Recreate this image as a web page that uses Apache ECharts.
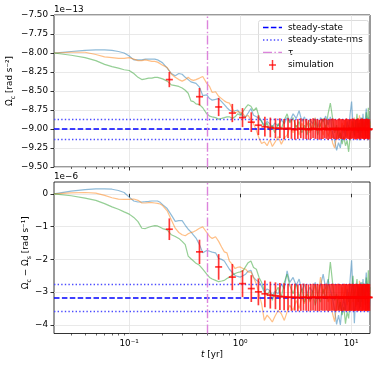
<!DOCTYPE html>
<html><head><meta charset="utf-8">
<script src="https://cdn.jsdelivr.net/npm/echarts@6/dist/echarts.min.js"></script>
<style>html,body{margin:0;padding:0;background:#fff}#c{width:377px;height:369px}</style>
</head><body><div id="c"></div>
<script>
// ---- data (top panel in units of 1e-13 rad s^-2, bottom panel in units of 1e-6 rad s^-1) ----
const T = [0.021,0.03,0.04,0.05,0.06,0.07,0.08,0.09,
  0.1,0.11,0.12,0.13,0.14,0.15,0.16,0.17,0.18,0.19,0.2,
  0.22,0.24,0.26,0.28,0.3,0.32,0.34,0.36,0.38,0.4,
  0.43,0.46,0.5,0.53,0.56,
  0.6,0.64,0.68,0.72,0.76,0.8,
  0.85,0.9,0.95,1.0,
  1.06,1.12,1.18,1.25,1.32,1.4,1.48,1.56,1.65,1.75,1.85,1.95,2.05,
  2.2,2.35,2.5,2.65,2.8,
  3.0,3.2,3.4,3.6,3.8,4.0,
  4.25,4.5,4.75,5.0,
  5.3,5.6,5.9,6.2,6.5,6.8,7.1,7.4,7.7,8.0,8.3,8.6,8.9,9.2,9.5,9.8,10.1,10.4,10.7,11.0,11.3,11.6,11.9,12.2,12.5,12.8,13.1,13.4,13.7,14.0,14.3,14.6,
  14.8];

const TOP_BLUE = [-8.00,-7.98,-7.965,-7.96,-7.96,-7.965,-7.98,-8.00,
  -8.04,-8.09,-8.09,-8.09,-8.08,-8.08,-8.08,-8.08,-8.09,-8.11,-8.13,
  -8.20,-8.27,-8.30,-8.27,-8.28,-8.32,-8.35,-8.38,-8.39,-8.40,
  -8.45,-8.56,-8.55,-8.60,-8.62,
  -8.61,-8.60,-8.64,-8.68,-8.72,-8.75,
  -8.77,-8.76,-8.75,-8.80,
  -8.83,-8.84,-8.79,-8.73,-8.82,-8.84,-8.86,-8.90,-8.95,-8.90,-8.93,-8.98,-8.92,
  -8.96,-8.88,-8.93,-8.85,-8.90,
  -8.80,-8.86,-8.76,-8.90,-8.84,-8.95,
  -8.88,-8.93,-8.86,-8.98,
  -8.85,-8.90,-8.83,-8.95,-8.84,-9.05,-9.15,-9.28,-9.18,-9.25,-9.05,-8.95,-9.10,-8.90,-9.02,-8.80,-8.64,-8.95,-9.10,-8.88,-9.05,-8.92,-9.15,-8.85,-9.05,-8.80,-9.00,-8.90,-8.73,-9.05,-8.85,-9.10,
  -8.95];
const TOP_ORANGE = [-8.00,-7.99,-7.99,-8.02,-8.05,-8.06,-8.07,-8.07,
  -8.06,-8.08,-8.10,-8.10,-8.09,-8.10,-8.11,-8.11,-8.12,-8.14,-8.16,
  -8.19,-8.28,-8.32,-8.35,-8.37,-8.35,-8.32,-8.35,-8.36,-8.35,
  -8.33,-8.31,-8.40,-8.44,-8.52,
  -8.51,-8.57,-8.60,-8.63,-8.65,-8.66,
  -8.73,-8.79,-8.77,-8.78,
  -8.80,-8.84,-8.82,-8.88,-8.93,-9.02,-9.12,-9.19,-9.17,-9.22,-9.14,-9.23,-9.18,
  -9.10,-9.20,-9.12,-9.08,-8.98,
  -9.05,-8.95,-9.08,-8.92,-9.02,-8.90,
  -9.05,-8.95,-8.85,-9.02,
  -8.92,-9.08,-8.95,-9.10,-9.00,-9.18,-9.25,-9.10,-8.98,-9.12,-8.92,-9.05,-8.88,-9.10,-8.95,-9.15,-8.90,-9.05,-8.85,-9.10,-8.92,-9.05,-8.82,-9.00,-8.88,-9.12,-8.95,-9.05,-8.90,-9.15,-8.95,-9.05,
  -8.92];
const TOP_GREEN = [-8.00,-8.03,-8.06,-8.10,-8.15,-8.18,-8.20,-8.22,
  -8.23,-8.27,-8.32,-8.35,-8.34,-8.33,-8.33,-8.32,-8.32,-8.33,-8.34,
  -8.37,-8.42,-8.43,-8.44,-8.46,-8.49,-8.53,-8.63,-8.64,-8.67,
  -8.68,-8.72,-8.80,-8.83,-8.84,
  -8.85,-8.87,-8.86,-8.85,-8.84,-8.84,
  -8.86,-8.84,-8.80,-8.82,
  -8.77,-8.72,-8.68,-8.70,-8.76,-8.72,-8.84,-8.90,-8.98,-8.92,-9.02,-8.95,-9.05,
  -8.93,-9.00,-8.88,-8.80,-8.92,
  -8.85,-8.98,-8.90,-9.05,-8.95,-9.08,
  -8.92,-9.02,-8.90,-9.08,
  -8.95,-8.86,-9.00,-8.80,-8.66,-8.85,-9.05,-8.95,-9.12,-9.05,-9.20,-9.10,-9.22,-9.15,-9.30,-9.10,-9.00,-8.90,-9.08,-8.95,-8.80,-9.05,-8.92,-9.10,-8.85,-9.00,-8.90,-9.10,-8.78,-8.95,-8.72,-9.00,
  -8.90];

const BOT_BLUE = [0.00,0.08,0.13,0.15,0.15,0.14,0.10,0.04,
  -0.10,-0.22,-0.25,-0.25,-0.24,-0.23,-0.22,-0.22,-0.22,-0.26,-0.33,
  -0.45,-0.65,-0.84,-0.82,-0.82,-0.96,-1.08,-1.16,-1.26,-1.35,
  -1.55,-1.80,-1.73,-1.75,-1.78,
  -1.80,-1.97,-2.00,-2.05,-2.18,-2.30,
  -2.40,-2.49,-2.52,-2.54,
  -2.50,-2.45,-2.36,-2.33,-2.55,-2.64,-2.68,-2.82,-3.00,-2.90,-2.95,-3.10,-2.98,
  -3.05,-2.75,-2.90,-2.35,-2.70,
  -2.55,-2.80,-2.60,-2.95,-2.75,-3.05,
  -2.85,-3.00,-2.70,-3.10,
  -2.80,-2.45,-2.90,-2.60,-2.95,-3.20,-3.55,-3.98,-3.70,-4.00,-3.45,-3.20,-3.55,-2.90,-3.30,-2.60,-2.03,-3.00,-3.95,-3.10,-3.40,-2.80,-3.50,-2.70,-3.30,-2.60,-3.20,-2.85,-2.40,-3.35,-2.75,-3.50,
  -3.10];
const BOT_ORANGE = [0.00,0.03,0.04,0.02,-0.05,-0.12,-0.16,-0.17,
  -0.17,-0.16,-0.20,-0.28,-0.28,-0.27,-0.27,-0.28,-0.29,-0.31,-0.36,
  -0.52,-0.80,-1.05,-1.18,-1.25,-1.28,-1.22,-1.18,-1.16,-1.12,
  -1.05,-1.01,-1.18,-1.30,-1.36,
  -1.31,-1.45,-1.62,-1.77,-1.80,-2.05,
  -2.15,-2.28,-2.24,-2.23,
  -2.28,-2.30,-2.39,-2.38,-2.55,-2.75,-3.05,-3.35,-3.86,-3.70,-3.80,-3.91,-3.75,
  -3.55,-3.66,-3.86,-3.60,-3.40,
  -3.55,-3.25,-3.50,-3.15,-3.35,-3.05,
  -3.30,-3.10,-2.75,-3.20,
  -2.54,-3.05,-2.85,-3.30,-3.05,-3.65,-3.90,-3.40,-3.10,-3.50,-2.85,-3.25,-2.80,-3.40,-3.00,-3.55,-2.90,-3.30,-2.75,-3.45,-2.95,-3.30,-2.65,-3.10,-2.85,-3.50,-3.00,-3.25,-2.90,-3.60,-3.05,-3.30,
  -2.95];
const BOT_GREEN = [0.00,-0.06,-0.13,-0.20,-0.30,-0.40,-0.47,-0.55,
  -0.62,-0.72,-0.85,-1.05,-1.06,-1.02,-0.99,-0.97,-0.98,-1.02,-1.06,
  -1.10,-1.25,-1.30,-1.36,-1.45,-1.55,-1.90,-1.98,-2.05,-2.12,
  -2.18,-2.30,-2.45,-2.55,-2.60,
  -2.64,-2.68,-2.66,-2.64,-2.58,-2.54,
  -2.48,-2.43,-2.40,-2.38,
  -2.35,-2.22,-2.10,-2.05,-2.25,-2.30,-2.55,-2.70,-2.95,-3.10,-2.95,-3.25,-3.05,
  -2.85,-3.15,-2.70,-2.45,-2.80,
  -3.05,-2.75,-3.15,-2.90,-3.30,-3.05,
  -3.25,-2.95,-3.40,-3.10,
  -3.30,-2.90,-3.20,-2.75,-2.08,-2.70,-3.25,-3.05,-3.55,-3.30,-3.70,-3.45,-3.96,-3.60,-3.80,-3.20,-2.95,-2.50,-3.20,-2.90,-2.60,-3.30,-2.85,-3.45,-2.70,-3.15,-2.80,-3.40,-2.55,-3.00,-2.33,-3.10,
  -2.85];

const SIM_T = [0.23,0.43,0.64,0.85,1.05,1.26,1.46,1.67,1.87,2.08,2.28,2.49,2.70,2.90,3.11,3.31,3.52,3.72,3.93,4.13,
  4.34,4.54,4.75,4.96,5.16,5.37,5.57,5.78,5.98,6.19,6.39,6.60,6.81,7.01,7.22,7.42,7.63,7.83,8.04,8.24,
  8.45,8.65,8.86,9.07,9.27,9.48,9.68,9.89,10.09,10.30,10.50,10.71,10.92,11.12,11.33,11.53,11.74,11.94,12.15,12.35,
  12.56,12.77,12.97,13.18,13.38,13.59,13.79,14.00,14.20,14.41,14.61];
const SIM_TOP = [-8.35,-8.575,-8.71,-8.79,-8.85,-8.91,-8.95,-8.97,-8.98,-8.99,-8.99,
  -9.00,-8.99,-9.00,-9.01,-9.00,-8.99,-9.00,-9.00,-9.01,-9.00,
  -8.99,-9.00,-9.00,-9.01,-9.00,-9.00,-8.99,-9.00,-9.01,-9.00,
  -9.00,-8.99,-9.00,-9.00,-9.01,-9.00,-8.99,-9.00,-9.00,-9.00,
  -9.01,-9.00,-8.99,-9.00,-9.00,-9.01,-9.00,-9.00,-8.99,-9.00,
  -9.00,-9.01,-9.00,-9.00,-8.99,-9.00,-9.01,-9.00,-9.00,-8.99,
  -9.00,-9.00,-9.01,-9.00,-9.00,-8.99,-9.00,-9.00,-9.01,-9.00];
const SIM_TOP_ERR = [0.10,0.115,0.12,0.12,0.125,
  0.13,0.13,0.13,0.13,0.13,0.13,0.13,0.13,0.13,0.13,0.13,
  0.13,0.13,0.13,0.13,0.13,0.13,0.13,0.13,0.13,0.13,0.13,
  0.13,0.13,0.13,0.13,0.13,0.13,0.13,0.13,0.13,0.13,0.13,
  0.13,0.13,0.13,0.13,0.13,0.13,0.13,0.13,0.13,0.13,0.13,
  0.13,0.13,0.13,0.13,0.13,0.13,0.13,0.13,0.13,0.13,0.13,
  0.13,0.13,0.13,0.13,0.13,0.13,0.13,0.13,0.13,0.13,0.13];
const SIM_BOT = [-1.08,-1.77,-2.23,-2.54,-2.74,-2.89,-2.99,-3.05,-3.09,-3.11,-3.13,
  -3.14,-3.15,-3.16,-3.15,-3.17,-3.16,-3.15,-3.16,-3.17,-3.16,
  -3.15,-3.16,-3.16,-3.17,-3.15,-3.16,-3.16,-3.15,-3.17,-3.16,
  -3.16,-3.15,-3.16,-3.17,-3.16,-3.15,-3.16,-3.16,-3.17,-3.16,
  -3.15,-3.16,-3.16,-3.17,-3.16,-3.15,-3.16,-3.16,-3.15,-3.17,
  -3.16,-3.16,-3.15,-3.16,-3.17,-3.16,-3.15,-3.16,-3.16,-3.17,
  -3.16,-3.15,-3.16,-3.16,-3.17,-3.16,-3.15,-3.16,-3.16,-3.16];
const SIM_BOT_ERR = [0.33,0.37,0.39,0.40,0.41,
  0.41,0.41,0.41,0.41,0.41,0.41,0.41,0.41,0.41,0.41,0.41,
  0.41,0.41,0.41,0.41,0.41,0.41,0.41,0.41,0.41,0.41,0.41,
  0.41,0.41,0.41,0.41,0.41,0.41,0.41,0.41,0.41,0.41,0.41,
  0.41,0.41,0.41,0.41,0.41,0.41,0.41,0.41,0.41,0.41,0.41,
  0.41,0.41,0.41,0.41,0.41,0.41,0.41,0.41,0.41,0.41,0.41,
  0.41,0.41,0.41,0.41,0.41,0.41,0.41,0.41,0.41,0.41,0.41];

const SS_TOP = -9.0, RMS_TOP = 0.128;
const SS_BOT = -3.16, RMS_BOT = 0.415;
const TAU = 0.5;
const X_MIN = 0.021, X_MAX = 14.8;
const X_MAJOR = [0.1, 1, 10];
const X_MINOR = [0.03,0.04,0.05,0.06,0.07,0.08,0.09,0.2,0.3,0.4,0.5,0.6,0.7,0.8,0.9,2,3,4,5,6,7,8,9];
const Y_TOP_MIN = -9.5, Y_TOP_MAX = -7.5, Y_TOP_STEP = 0.25;
const Y_BOT_MIN = -4.26, Y_BOT_MAX = 0.36;
const Y_BOT_TICKS = [-4, -3, -2, -1, 0];

// ---- styling ----
const FONT = 'DejaVu Sans';
const FS = 8.8;
const C_BLUE = 'rgba(31,119,180,0.5)', C_ORANGE = 'rgba(255,127,14,0.5)', C_GREEN = 'rgba(44,160,44,0.5)';
const C_SIM = 'rgba(255,0,0,0.78)';
const C_SS = '#0000ff', C_RMS = '#4b4bff', C_TAU = '#dc84dc';
const DASH_SS = [5.5, 2.4], DASH_RMS = [1.4, 2.2], DASH_TAU = [9.0, 2.4, 1.5, 2.4];
const GRIDLINE = {show: true, lineStyle: {color: '#e3e3e3', width: 0.8}};
const minus = s => String(s).replace('-', '\u2212');
const SUP = {'-': '\u207b', '0': '\u2070', '1': '\u00b9', '2': '\u00b2', '3': '\u00b3'};
const logLabel = v => '10' + String(Math.round(Math.log10(v))).split('').map(c => SUP[c]).join('');

function pairs(arr) { return T.map((t, i) => [t, arr[i]]); }
function simData(vals, errs) { return SIM_T.map((t, i) => [t, vals[i], errs[i]]); }

function errRender(params, api) {
  const t = api.value(0), v = api.value(1), e = api.value(2);
  const p = api.coord([t, v]);
  const a = api.coord([t, v + e]);
  const b = api.coord([t, v - e]);
  const st = {stroke: C_SIM, lineWidth: 1.7, fill: null};
  return {type: 'group', children: [
    {type: 'line', shape: {x1: p[0], y1: a[1], x2: p[0], y2: b[1]}, style: st},
    {type: 'line', shape: {x1: p[0] - 3.5, y1: p[1], x2: p[0] + 3.5, y2: p[1]}, style: st}
  ]};
}

function xMain(gi, withLabels) {
  const ax = {
    type: 'log', logBase: 10, gridIndex: gi, min: X_MIN, max: X_MAX, position: 'bottom',
    axisLine: {show: false},
    axisTick: {show: true, customValues: X_MAJOR, length: 3.5, lineStyle: {color: '#000', width: 0.8}},
    axisLabel: {show: withLabels, customValues: X_MAJOR, formatter: logLabel, margin: 6,
      fontFamily: FONT, fontSize: FS, color: '#000'},
    splitLine: GRIDLINE
  };
  if (withLabels) {
    ax.name = '{i|t} [yr]';
    ax.nameLocation = 'middle';
    ax.nameGap = 17;
    ax.nameMoveOverlap = false;
    ax.nameTextStyle = {fontFamily: FONT, fontSize: FS, color: '#000',
      rich: {i: {fontFamily: FONT, fontSize: FS, fontStyle: 'italic', color: '#000'}}};
  }
  return ax;
}
function xMinor(gi) {
  return {type: 'log', logBase: 10, gridIndex: gi, min: X_MIN, max: X_MAX, position: 'bottom',
    axisLine: {show: false}, axisLabel: {show: false}, splitLine: {show: false},
    axisTick: {show: true, customValues: X_MINOR, length: 2, lineStyle: {color: '#000', width: 0.6}}};
}

const richName = {
  a: {fontFamily: FONT, fontSize: FS, color: '#000', lineHeight: 12},
  b: {fontFamily: FONT, fontSize: 6.3, color: '#000', lineHeight: 7, verticalAlign: 'bottom'}
};

function hLines(name, xi, yi, vals, color, dash, width) {
  return {name, type: 'line', xAxisIndex: xi, yAxisIndex: yi, data: [], z: 4,
    markLine: {silent: true, symbol: ['none', 'none'], label: {show: false}, animation: false,
      lineStyle: {color, type: dash, width}, data: vals.map(v => ({yAxis: v}))}};
}
function vLine(xi, yi) {
  return {name: 'τ', type: 'line', xAxisIndex: xi, yAxisIndex: yi, data: [], z: 5,
    markLine: {silent: true, symbol: ['none', 'none'], label: {show: false}, animation: false,
      lineStyle: {color: C_TAU, type: DASH_TAU, width: 1.4}, data: [{xAxis: TAU}]}};
}
function curve(xi, yi, arr, color) {
  return {type: 'line', xAxisIndex: xi, yAxisIndex: yi, data: pairs(arr), showSymbol: false, symbol: 'none',
    lineStyle: {color, width: 1.2}, z: 2, silent: true};
}

const gridBase = {left: 54, width: 316, show: true, borderColor: '#000', borderWidth: 0.8,
  backgroundColor: 'transparent', containLabel: false, outerBoundsMode: 'none'};
const option = {
  animation: false,
  backgroundColor: '#fff',
  textStyle: {fontFamily: FONT},
  grid: [
    Object.assign({}, gridBase, {top: 15, height: 152}),
    Object.assign({}, gridBase, {top: 182, height: 151.5})
  ],
  xAxis: [xMain(0, false), xMinor(0), xMain(1, true), xMinor(1)],
  yAxis: [
    {type: 'value', gridIndex: 0, min: Y_TOP_MIN, max: Y_TOP_MAX, interval: Y_TOP_STEP,
      axisLine: {show: false},
      axisTick: {show: true, length: 3.5, lineStyle: {color: '#000', width: 0.8}},
      axisLabel: {formatter: v => minus(v.toFixed(2)), margin: 6, fontFamily: FONT, fontSize: FS, color: '#000'},
      splitLine: GRIDLINE,
      name: '{a|\u03A9\u0307}{b|c}{a| [rad s\u207b\u00b2]}', nameLocation: 'middle', nameGap: 38, nameMoveOverlap: false,
      nameTextStyle: {fontFamily: FONT, fontSize: FS, color: '#000', rich: richName, padding: [0, 0, 0, 20]}},
    {type: 'value', gridIndex: 1, min: Y_BOT_MIN, max: Y_BOT_MAX,
      axisLine: {show: false},
      axisTick: {show: true, customValues: Y_BOT_TICKS, length: 3.5, lineStyle: {color: '#000', width: 0.8}},
      axisLabel: {customValues: Y_BOT_TICKS, formatter: v => minus(Math.round(v)), margin: 6, fontFamily: FONT, fontSize: FS, color: '#000'},
      splitLine: GRIDLINE,
      name: '{a|\u03A9}{b|c}{a| \u2212 \u03A9}{b|s}{a| [rad s\u207b\u00b9]}', nameLocation: 'middle', nameGap: 22, nameMoveOverlap: false,
      nameTextStyle: {fontFamily: FONT, fontSize: FS, color: '#000', rich: richName, padding: [0, 0, 0, 10]}}
  ],
  series: [
    curve(0, 0, TOP_BLUE, C_BLUE), curve(0, 0, TOP_ORANGE, C_ORANGE), curve(0, 0, TOP_GREEN, C_GREEN),
    curve(2, 1, BOT_BLUE, C_BLUE), curve(2, 1, BOT_ORANGE, C_ORANGE), curve(2, 1, BOT_GREEN, C_GREEN),
    hLines('steady-state', 0, 0, [SS_TOP], C_SS, DASH_SS, 1.5),
    hLines('steady-state-rms', 0, 0, [SS_TOP + RMS_TOP, SS_TOP - RMS_TOP], C_RMS, DASH_RMS, 1.4),
    hLines('steady-state', 2, 1, [SS_BOT], C_SS, DASH_SS, 1.5),
    hLines('steady-state-rms', 2, 1, [SS_BOT + RMS_BOT, SS_BOT - RMS_BOT], C_RMS, DASH_RMS, 1.4),
    vLine(0, 0), vLine(2, 1),
    {name: 'simulation', type: 'custom', coordinateSystem: 'cartesian2d', xAxisIndex: 0, yAxisIndex: 0,
      renderItem: errRender, encode: {x: 0, y: 1}, data: simData(SIM_TOP, SIM_TOP_ERR), z: 6, silent: true},
    {name: 'simulation', type: 'custom', coordinateSystem: 'cartesian2d', xAxisIndex: 2, yAxisIndex: 1,
      renderItem: errRender, encode: {x: 0, y: 1}, data: simData(SIM_BOT, SIM_BOT_ERR), z: 6, silent: true}
  ],
  graphic: [
    {type: 'text', x: 54, y: 9.5, style: {text: '1e\u221213', fontFamily: FONT, fontSize: FS, fill: '#000', verticalAlign: 'middle'}},
    {type: 'text', x: 54, y: 176.5, style: {text: '1e\u22126', fontFamily: FONT, fontSize: FS, fill: '#000', verticalAlign: 'middle'}},
    {type: 'group', z: 100, children: [
      {type: 'rect', shape: {x: 258.5, y: 20.5, width: 110, height: 52, r: 2},
        style: {fill: 'rgba(255,255,255,0.85)', stroke: '#d3d3d3', lineWidth: 0.8}},
      {type: 'line', shape: {x1: 263, y1: 27.5, x2: 282, y2: 27.5}, style: {stroke: C_SS, lineWidth: 1.5, lineDash: DASH_SS}},
      {type: 'text', x: 288, y: 27.5, style: {text: 'steady-state', fontFamily: FONT, fontSize: FS, fill: '#000', verticalAlign: 'middle'}},
      {type: 'line', shape: {x1: 263, y1: 40, x2: 282, y2: 40}, style: {stroke: C_RMS, lineWidth: 1.4, lineDash: DASH_RMS}},
      {type: 'text', x: 288, y: 40, style: {text: 'steady-state-rms', fontFamily: FONT, fontSize: FS, fill: '#000', verticalAlign: 'middle'}},
      {type: 'line', shape: {x1: 263, y1: 52.5, x2: 282, y2: 52.5}, style: {stroke: C_TAU, lineWidth: 1.4, lineDash: DASH_TAU}},
      {type: 'text', x: 288, y: 52.5, style: {text: '\u03c4', fontFamily: FONT, fontSize: FS, fill: '#000', verticalAlign: 'middle'}},
      {type: 'line', shape: {x1: 272.5, y1: 60, x2: 272.5, y2: 70}, style: {stroke: C_SIM, lineWidth: 1.5}},
      {type: 'line', shape: {x1: 269, y1: 65, x2: 276, y2: 65}, style: {stroke: C_SIM, lineWidth: 1.5}},
      {type: 'text', x: 288, y: 65, style: {text: 'simulation', fontFamily: FONT, fontSize: FS, fill: '#000', verticalAlign: 'middle'}}
    ]}
  ]
};

const chart = echarts.init(document.getElementById('c'), null, {renderer: 'canvas'});
chart.setOption(option);
</script>
</body></html>
